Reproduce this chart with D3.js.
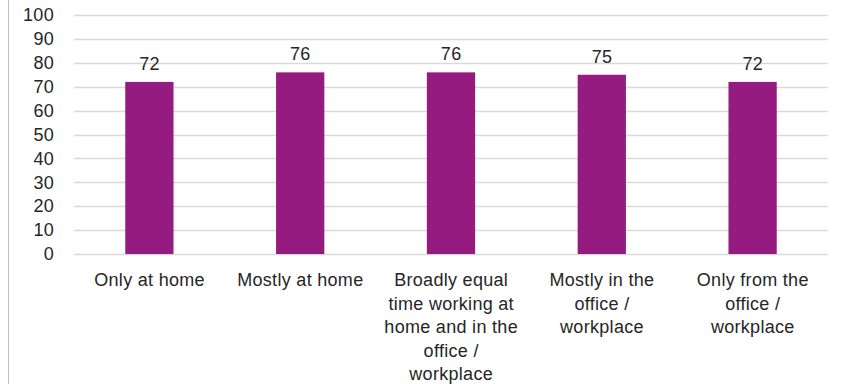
<!DOCTYPE html>
<html>
<head>
<meta charset="utf-8">
<script src="https://cdn.jsdelivr.net/npm/d3@7"></script>
<style>
  html, body { margin: 0; padding: 0; background: #fff; }
  svg text { font-family: "Liberation Sans", Arial, sans-serif; fill: #262626; }
</style>
</head>
<body>
<svg id="chart" width="843" height="384"></svg>
<script>
// Chart data
const categories = [
  "Only at home",
  "Mostly at home",
  "Broadly equal time working at home and in the office / workplace",
  "Mostly in the office / workplace",
  "Only from the office / workplace"
];
const values = [72, 76, 76, 75, 72];
const yTicks = [0, 10, 20, 30, 40, 50, 60, 70, 80, 90, 100];

const barColor = "#951B81";
const gridColor = "#D9D9D9";
const fontSize = 18;
const letterSpacing = 0.3;

const svg = d3.select("#chart");
const margin = { left: 74, right: 15, top: 15, bottom: 130 };
const width = 843, height = 384;

const x = d3.scaleBand()
  .domain(categories)
  .range([margin.left, width - margin.right])
  .paddingInner(0.68)
  .paddingOuter(0.34);

const y = d3.scaleLinear()
  .domain([0, 100])
  .range([height - margin.bottom, margin.top]);

// Left edge of the chart frame
svg.append("line")
  .attr("x1", 8.5).attr("x2", 8.5)
  .attr("y1", 0).attr("y2", height)
  .attr("stroke", "#BFBFBF").attr("stroke-width", 1);

// Horizontal gridlines
svg.append("g")
  .selectAll("line")
  .data(yTicks)
  .join("line")
  .attr("x1", margin.left).attr("x2", width - margin.right)
  .attr("y1", d => Math.round(y(d)) + 0.5)
  .attr("y2", d => Math.round(y(d)) + 0.5)
  .attr("stroke", gridColor).attr("stroke-width", 1.3);

// Y axis labels
const yAxis = d3.axisLeft(y).tickValues(yTicks).tickSize(0).tickPadding(0);
const yAxisG = svg.append("g")
  .attr("transform", `translate(${54},0)`)
  .call(yAxis);
yAxisG.select(".domain").remove();
yAxisG.selectAll("text")
  .style("font-size", fontSize + "px")
  .style("letter-spacing", letterSpacing + "px")
  .attr("font-family", null)
  .attr("fill", "#262626");

// Bars
svg.append("g")
  .selectAll("rect")
  .data(values)
  .join("rect")
  .attr("x", (d, i) => x(categories[i]))
  .attr("width", x.bandwidth())
  .attr("y", d => y(d))
  .attr("height", d => y(0) - y(d))
  .attr("fill", barColor);

// Value labels
svg.append("g")
  .selectAll("text")
  .data(values)
  .join("text")
  .attr("x", (d, i) => x(categories[i]) + x.bandwidth() / 2 + letterSpacing / 2)
  .attr("y", d => y(d) - 12)
  .attr("text-anchor", "middle")
  .style("font-size", fontSize + "px")
  .style("letter-spacing", letterSpacing + "px")
  .text(d => d);

// Category labels, wrapped to fit the band
const maxLineWidth = 138;
const lineHeight = 23.5;
const xAxisG = svg.append("g");
categories.forEach(cat => {
  const cx = x(cat) + x.bandwidth() / 2 + letterSpacing / 2;
  const t = xAxisG.append("text")
    .attr("text-anchor", "middle")
    .style("font-size", fontSize + "px")
    .style("letter-spacing", letterSpacing + "px");
  const words = cat.split(" ");
  const lines = [];
  let line = [];
  const probe = t.append("tspan");
  words.forEach(w => {
    const test = line.concat(w).join(" ");
    probe.text(test);
    if (probe.node().getComputedTextLength() > maxLineWidth && line.length) {
      lines.push(line.join(" "));
      line = [w];
    } else {
      line.push(w);
    }
  });
  if (line.length) lines.push(line.join(" "));
  probe.remove();
  lines.forEach((l, i) => {
    t.append("tspan")
      .attr("x", cx)
      .attr("y", y(0) + 32 + i * lineHeight)
      .text(l);
  });
});
</script>
</body>
</html>
